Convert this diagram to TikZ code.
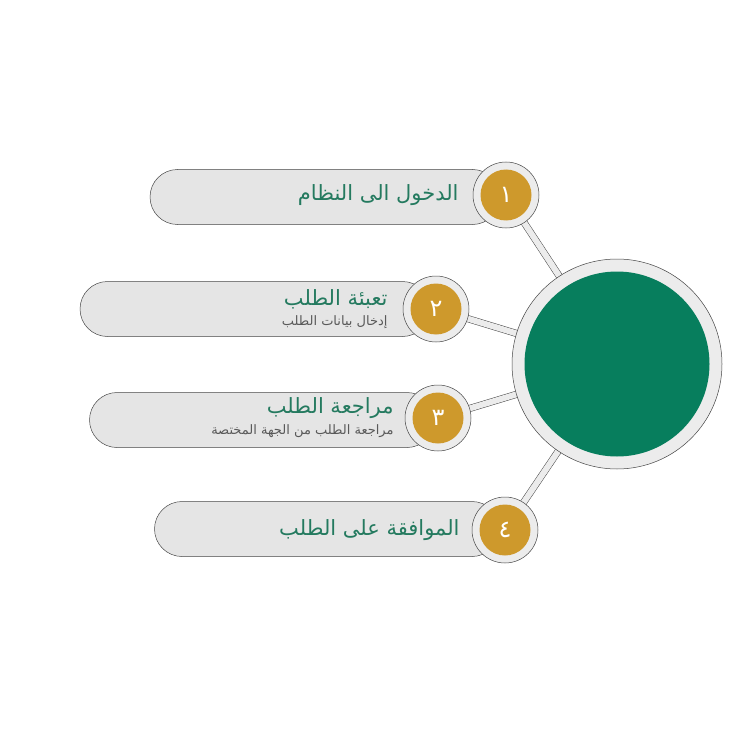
\documentclass[tikz,border=0pt]{standalone}
\usepackage{fontspec}
\usepackage{tikz}
\usetikzlibrary{positioning,backgrounds}
\TeXXeTstate=1
\newfontfamily\arabicfont[Script=Arabic]{DejaVu Sans}

\definecolor{hubgreen}{RGB}{7,126,93}
\definecolor{stepgold}{RGB}{206,153,44}
\definecolor{titlegreen}{RGB}{36,122,95}
\definecolor{pillgray}{RGB}{229,229,229}
\definecolor{ringgray}{RGB}{236,236,236}
\definecolor{edgegray}{RGB}{70,70,70}

\tikzset{
  pill/.style={rectangle, draw=edgegray, line width=0.5pt, fill=pillgray,
    rounded corners=27.5pt, minimum height=55pt},
  ring/.style={circle, draw=edgegray, line width=0.5pt, fill=ringgray, minimum size=66pt, inner sep=0pt},
  num/.style={circle, fill=stepgold, minimum size=51pt, inner sep=0pt, text=white,
    font=\arabicfont\fontsize{24}{24}\selectfont},
  title/.style={text=titlegreen, align=right, inner sep=0pt},
  link/.style={draw=edgegray, line width=0.5pt, double=ringgray, double distance=6pt}
}
\newcommand{\stitle}[1]{{\arabicfont\fontsize{21}{23}\selectfont\beginR #1\endR}}
\newcommand{\ssub}[1]{{\color{black!65}\arabicfont\fontsize{13}{15}\selectfont\beginR #1\endR}}

\begin{document}
\begin{tikzpicture}[x=1pt, y=-1pt]
  \useasboundingbox (0,0) rectangle (730,730);

  % central hub
  \node (hub) [circle, draw=edgegray, line width=0.5pt, fill=ringgray, minimum size=210pt] at (617,364) {};
  \node (core) [circle, fill=hubgreen, minimum size=185pt] at (hub.center) {};

  % step 1
  \node (pill1) [pill, minimum width=350pt] at (325,197) {};
  \node (ring1) [ring] at (506,195) {};
  \node (num1) [num] at (ring1.center) {١};
  \node (txt1) [title, left=14pt of ring1] {\stitle{الدخول الى النظام}};

  % step 2
  \node (pill2) [pill, minimum width=350pt] at (255,309) {};
  \node (ring2) [ring] at (436,309) {};
  \node (num2) [num] at (ring2.center) {٢};
  \node (txt2) [title, left=15pt of ring2] {\stitle{تعبئة الطلب}\\[5pt]\ssub{إدخال بيانات الطلب}};

  % step 3
  \node (pill3) [pill, minimum width=345pt] at (262,420) {};
  \node (ring3) [ring] at (438,418) {};
  \node (num3) [num] at (ring3.center) {٣};
  \node (txt3) [title, left=11pt of ring3] {\stitle{مراجعة الطلب}\\[5pt]\ssub{مراجعة الطلب من الجهة المختصة}};

  % step 4
  \node (pill4) [pill, minimum width=345pt] at (327,529) {};
  \node (ring4) [ring] at (505,530) {};
  \node (num4) [num] at (ring4.center) {٤};
  \node (txt4) [title, left=12pt of ring4] {\stitle{الموافقة على الطلب}};

  \begin{scope}[on background layer]
    \draw[link] (ring1.center) -- (hub.center);
    \draw[link] (ring2.center) -- (hub.center);
    \draw[link] (ring3.center) -- (hub.center);
    \draw[link] (ring4.center) -- (hub.center);
  \end{scope}
\end{tikzpicture}
\end{document}
